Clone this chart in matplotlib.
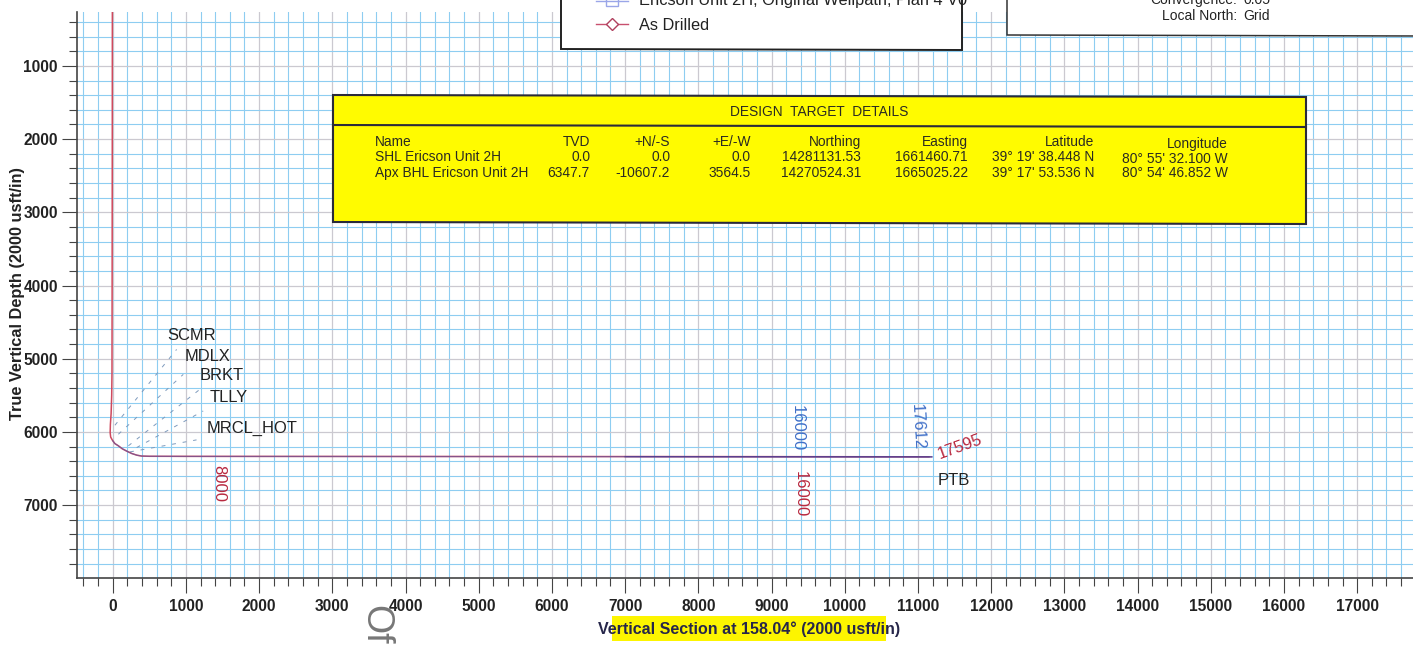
#!/usr/bin/env python3
"""Wellbore vertical section plot, Ericson Unit 2H"""

import numpy as np
import matplotlib
matplotlib.use("Agg")
import matplotlib.pyplot as plt
from matplotlib.patches import Polygon, Rectangle

plt.rcParams['font.family'] = ['Liberation Sans', 'DejaVu Sans']

W, H = 1413, 645

# Well paths (vertical section, TVD)
path_vs = [-5, -6, -8, -10, -14, -22, -32, -35, -28, -12, 0, 30, 77, 130, 190, 260, 330, 395, 500, 1000, 5000, 9000, 11150]
path_tvd = [265, 2000, 4000, 5200, 5500, 5750, 5900, 6010, 6070, 6100, 6120, 6160, 6190, 6230, 6262, 6295, 6318, 6330, 6333, 6334, 6336, 6338, 6340]
plan_vs = [0, 30, 77, 130, 190, 260, 330, 395, 500, 1000, 5000, 8000, 11190]
plan_tvd = [6120, 6160, 6190, 6230, 6262, 6295, 6318, 6330, 6333, 6335, 6337, 6339, 6341]

# Formation tops: name, start, end, label position
form_names = ["SCMR", "MDLX", "BRKT", "TLLY", "MRCL_HOT"]
form_x0 = [30, 77, 214, 327, 236]
form_y0 = [5909, 6032, 6190, 6214, 6273]
form_x1 = [873, 964, 1191, 1236, 1145]
form_y1 = [4873, 5214, 5418, 5714, 6109]
form_label_x = [750, 985, 1190, 1330, 1280]
form_label_y = [4680, 4965, 5225, 5525, 5950]

x_major = list(range(0, 18000, 1000))
y_major = list(range(1000, 8000, 1000))
x_minor = list(range(-400, 17800, 200))
y_minor = list(range(400, 7900, 200))

# Design target table
table_header = ["Name", "TVD", "+N/-S", "+E/-W", "Northing", "Easting", "Latitude", "Longitude"]
table_shl = ["SHL Ericson Unit 2H", "0.0", "0.0", "0.0", "14281131.53", "1661460.71",
             "39° 19' 38.448 N", "80° 55' 32.100 W"]
table_bhl = ["Apx BHL Ericson Unit 2H", "6347.7", "-10607.2", "3564.5", "14270524.31", "1665025.22",
             "39° 17' 53.536 N", "80° 54' 46.852 W"]
table_right = [None, 590, 670, 751, 861, 968, 1094, 1228]


def px(x, y):
    """pixel position in the picture to figure fraction"""
    return x / W, 1 - y / H


fig = plt.figure(figsize=(W / 100, H / 100), dpi=100, facecolor='white')
ax = fig.add_axes([77 / W, 1 - 578 / H, (W - 77) / W, (578 - 12) / H])
ax.set_xlim(-488, 17763)
ax.set_ylim(7996, 263)

for side in ['top', 'right']:
    ax.spines[side].set_visible(False)
for side in ['left', 'bottom']:
    ax.spines[side].set_color('#444444')
    ax.spines[side].set_linewidth(1.2)

ax.set_xticks(x_major)
ax.set_yticks(y_major)
ax.set_xticks(x_minor, minor=True)
ax.set_yticks(y_minor, minor=True)
ax.tick_params(which='major', length=10.8, width=0.8, color='#444444', labelsize=11.2, labelcolor='#222222')
ax.tick_params(axis='x', which='major', pad=4.5)
ax.tick_params(axis='y', which='major', pad=3)
ax.tick_params(which='minor', length=5.8, width=0.8, color='#444444')
for lab in ax.get_xticklabels() + ax.get_yticklabels():
    lab.set_fontweight('bold')

ax.grid(which='minor', color='#8ecdf1', linewidth=0.8)
ax.grid(which='major', color='#cbc9d0', linewidth=0.9)
ax.set_axisbelow(True)

# formation dashes
for i in range(len(form_names)):
    ax.plot([form_x0[i], form_x1[i]], [form_y0[i], form_y1[i]], color='#7d9abd', lw=0.7,
            dashes=(4, 7), zorder=3)
    ax.text(form_label_x[i], form_label_y[i], form_names[i], fontsize=11.9, color='#222222',
            va='center', ha='left', zorder=5)

# well paths
ax.plot(path_vs, path_tvd, color='#cf4a5e', lw=1.1, zorder=4)
ax.plot(plan_vs, plan_tvd, color='#4a5ab0', lw=0.9, alpha=0.55, zorder=5)
ax.plot([7000, 11190], [6338, 6341], color='#5a3f8f', lw=1.0, zorder=5)

# MD annotations
ax.text(1455, 6700, "8000", color='#b8283f', fontsize=12, rotation=-90, ha='center', va='center', zorder=6)
ax.text(9395, 6850, "16000", color='#b8283f', fontsize=12, rotation=-90, ha='center', va='center', zorder=6)
ax.text(9355, 5950, "16000", color='#3f6fc8', fontsize=12, rotation=-90, ha='center', va='center', zorder=6)
ax.text(10990, 5935, "17612", color='#3f6fc8', fontsize=12, rotation=-87, ha='center', va='center', zorder=6)
ax.text(11575, 6205, "17595", color='#b8283f', fontsize=12, rotation=20, ha='center', va='center', zorder=6)
ax.text(11270, 6660, "PTB", color='#222222', fontsize=12, ha='left', va='center', zorder=6)

# axis titles, the x one has a highlighter stripe under it
fig.add_artist(Rectangle(px(612, 641), 274 / W, 25 / H, transform=fig.transFigure,
                         facecolor='#fdf500', edgecolor='none', zorder=1))
fig.text(*px(749, 629), "Vertical Section at 158.04° (2000 usft/in)", fontsize=11.5, fontweight='bold',
         color='#26264a', ha='center', va='center', zorder=3)
fig.text(*px(18, 294), "True Vertical Depth (2000 usft/in)", fontsize=11.8, fontweight='bold',
         color='#222222', rotation=90, ha='center', va='center', zorder=3)
fig.text(*px(375, 605), "Of", fontsize=27, color='#777777', rotation=-90, ha='center', va='top', zorder=3)

# legend box, cut by the top of the page
fig.add_artist(Polygon([px(561, -5), px(962, -5), px(962, 50), px(561, 49)], closed=True,
                       transform=fig.transFigure, facecolor='white', edgecolor='#222222', lw=1.4, zorder=2))
fig.add_artist(Rectangle(px(606, 6), 12 / W, 12 / H, transform=fig.transFigure,
                         facecolor='white', edgecolor='#9aa6e8', lw=1, zorder=3))
fig.add_artist(plt.Line2D([596 / W, 628 / W], [1 - 1 / H, 1 - 1 / H], transform=fig.transFigure,
                          color='#9aa6e8', lw=1, zorder=3))
fig.add_artist(plt.Line2D([596 / W, 628 / W], [1 - 24 / H, 1 - 24 / H], transform=fig.transFigure,
                          color='#c8506e', lw=1, zorder=3))
fig.add_artist(plt.Line2D([612 / W], [1 - 24 / H], transform=fig.transFigure, marker='D', markersize=6,
                          markerfacecolor='white', markeredgecolor='#b0405e', zorder=4))
fig.text(*px(639, 0), "Ericson Unit 2H, Original Wellpath, Plan 4 V0", fontsize=11.8, color='#222222',
         ha='left', va='center', zorder=5)
fig.text(*px(639, 25), "As Drilled", fontsize=11.8, color='#222222', ha='left', va='center', zorder=5)

# north reference box
fig.add_artist(Polygon([px(1007, -5), px(1420, -5), px(1420, 36), px(1007, 35)], closed=True,
                       transform=fig.transFigure, facecolor='white', edgecolor='#333333', lw=1.1, zorder=2))
fig.text(*px(1237, 0), "Convergence:", fontsize=10, color='#222222', ha='right', va='center', zorder=5)
fig.text(*px(1243, 0), "0.05", fontsize=10, color='#222222', ha='left', va='center', zorder=5)
fig.text(*px(1237, 16), "Local North:", fontsize=10, color='#222222', ha='right', va='center', zorder=5)
fig.text(*px(1243, 16), "Grid", fontsize=10, color='#222222', ha='left', va='center', zorder=5)

# design target table
fig.add_artist(Polygon([px(333, 95), px(1306, 97), px(1306, 224), px(333, 222)], closed=True,
                       transform=fig.transFigure, facecolor='#fffb00', edgecolor='#2a2a3a', lw=1.5, zorder=2))
fig.add_artist(plt.Line2D([333 / W, 1306 / W], [1 - 125 / H, 1 - 127 / H], transform=fig.transFigure,
                          color='#2a2a3a', lw=1.5, zorder=3))
fig.text(*px(819, 112), "DESIGN  TARGET  DETAILS", fontsize=9.9, color='#2a2a22', ha='center', va='center', zorder=5)
for i, col in enumerate([table_header, table_shl, table_bhl]):
    for j, val in enumerate(col):
        # the last column sits a little lower, the scan is skewed
        y = [142, 157, 173][i] + (2 if j == 7 and i < 2 else 0)
        if j == 0:
            fig.text(*px(375, y), val, fontsize=9.95, color='#2a2a22', ha='left', va='center', zorder=5)
        else:
            fig.text(*px(table_right[j], y), val, fontsize=9.95, color='#2a2a22', ha='right', va='center', zorder=5)

fig.savefig("out.png", dpi=100, facecolor='white')
plt.close(fig)
